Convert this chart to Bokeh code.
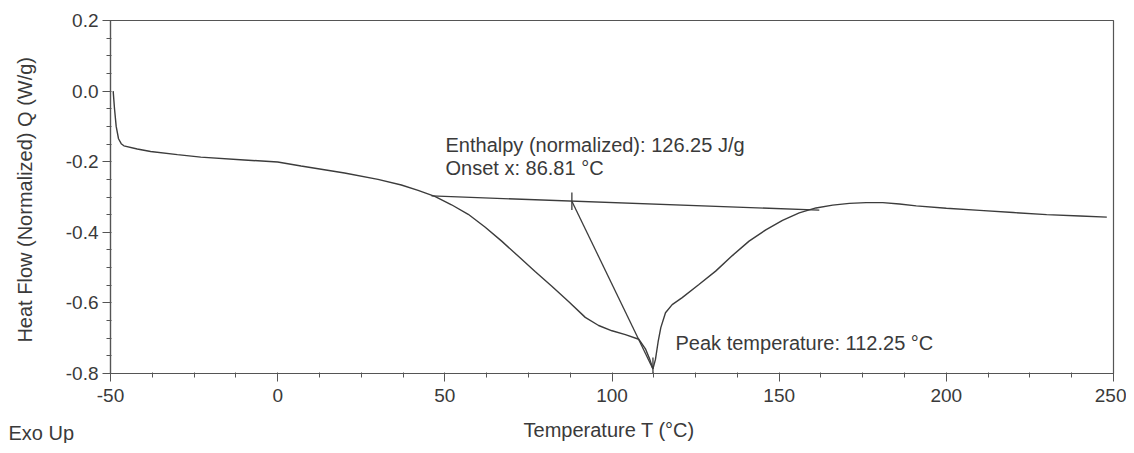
from bokeh.plotting import figure
from bokeh.models import Label, FixedTicker, Title
from bokeh.embed import file_html
from bokeh.resources import INLINE

# ---- data ----
temp_c = [-49.2, -48.8, -48.3, -47.6, -46.8, -46.0, -42.0, -38.0, -30.0, -23.0, -10.0, 0.0, 7.0,
          20.0, 30.0, 37.0, 42.0, 47.0, 52.0, 57.0, 62.0, 67.0, 72.0, 77.0, 82.0, 87.0,
          92.0, 96.0, 100.0, 104.0, 108.0, 110.0, 111.3, 112.25, 113.0, 113.8, 114.6,
          116.0, 118.0, 121.0, 126.0, 131.0, 136.0, 141.0, 146.0, 151.0, 156.0, 161.0,
          166.0, 171.0, 176.0, 181.0, 186.0, 191.0, 200.0, 210.0, 220.0, 230.0, 240.0, 248.0]
heat_flow = [0.0, -0.05, -0.1, -0.135, -0.149, -0.155, -0.164, -0.171, -0.18, -0.187, -0.195, -0.201, -0.212,
             -0.232, -0.25, -0.266, -0.281, -0.298, -0.322, -0.349, -0.385, -0.425, -0.468, -0.511, -0.553, -0.596,
             -0.641, -0.664, -0.679, -0.69, -0.703, -0.73, -0.76, -0.787, -0.76, -0.71, -0.67,
             -0.628, -0.605, -0.585, -0.548, -0.51, -0.466, -0.425, -0.393, -0.366, -0.345, -0.331,
             -0.323, -0.318, -0.316, -0.316, -0.32, -0.325, -0.332, -0.338, -0.344, -0.35, -0.354, -0.357]

baseline_t = [46.0, 162.0]
baseline_q = [-0.297, -0.337]

onset_tick_t = [88.0, 88.0]
onset_tick_q = [-0.287, -0.337]
tangent_t = [88.0, 112.25]
tangent_q = [-0.312, -0.787]
peak_tick_t = [112.25, 112.25]
peak_tick_q = [-0.755, -0.8]

x_major = [-50, 0, 50, 100, 150, 200, 250]
y_major = [-0.8, -0.6, -0.4, -0.2, 0.0, 0.2]
y_tick_labels = {-0.8: "-0.8", -0.6: "-0.6", -0.4: "-0.4", -0.2: "-0.2", 0.0: "0.0", 0.2: "0.2"}
x_tick_labels = {-50: "-50"}

enthalpy_text = "Enthalpy (normalized): 126.25 J/g"
onset_text = "Onset x: 86.81 °C"
peak_text = "Peak temperature: 112.25 °C"
x_title = "Temperature T  (°C)"
y_title = "Heat Flow (Normalized) Q  (W/g)"
corner_text = "Exo Up"

FONT = "Liberation Sans"
INK = "#3c3c3c"
TXT = "#3a3a3a"

p = figure(frame_width=1003, frame_height=353, x_range=(-50, 250), y_range=(-0.8, 0.2),
           output_backend="svg", toolbar_location=None,
           min_border_left=110, min_border_right=13, min_border_top=20, min_border_bottom=10)
p.grid.visible = False
p.outline_line_color = "#555555"
p.outline_line_width = 1.2
p.background_fill_color = "white"
p.border_fill_color = "white"

# axes
p.xaxis.ticker = FixedTicker(ticks=x_major, minor_ticks=[-50 + 12.5 * i for i in range(25)])
p.yaxis.ticker = FixedTicker(ticks=y_major, minor_ticks=[-0.8 + 0.05 * i for i in range(21)])
p.yaxis.major_label_overrides = y_tick_labels
p.xaxis.major_label_overrides = x_tick_labels
for ax in (p.xaxis, p.yaxis):
    ax.axis_line_color = "#555555"
    ax.axis_line_width = 1.2
    ax.major_tick_line_color = "#555555"
    ax.minor_tick_line_color = "#555555"
    ax.major_tick_in = 0
    ax.major_tick_out = 8
    ax.minor_tick_in = 1
    ax.minor_tick_out = 4
    ax.major_label_text_font = FONT
    ax.major_label_text_font_size = "19px"
    ax.major_label_text_color = TXT
    ax.axis_label_text_font = FONT
    ax.axis_label_text_font_size = "20px"
    ax.axis_label_text_font_style = "normal"
    ax.axis_label_text_color = TXT
p.xaxis.major_label_standoff = 7
p.yaxis.major_label_standoff = 4
p.xaxis.axis_label = x_title
p.yaxis.axis_label = y_title
p.xaxis.axis_label_standoff = 14
p.yaxis.axis_label_standoff = 27

# "Exo Up" in the row of the x-axis title
p.add_layout(Title(text=corner_text, align="left", offset=-102, standoff=-44,
                   vertical_align="top", text_font=FONT, text_font_size="20px",
                   text_font_style="normal", text_color=TXT), "below")

# curves
p.line(temp_c, heat_flow, line_color=INK, line_width=1.4)
p.line(baseline_t, baseline_q, line_color=INK, line_width=1.3)
p.line(onset_tick_t, onset_tick_q, line_color=INK, line_width=1.3)
p.line(tangent_t, tangent_q, line_color=INK, line_width=1.3)
p.line(peak_tick_t, peak_tick_q, line_color=INK, line_width=1.3)

def lab(x, y, t):
    p.add_layout(Label(x=x, y=y, text=t, text_font=FONT, text_font_size="20px",
                       text_color=TXT, text_align="left", text_baseline="alphabetic"))

lab(50.2, -0.152, enthalpy_text)
lab(50.2, -0.217, onset_text)
lab(119.0, -0.713, peak_text)

open("out.html", "w").write(file_html(p, INLINE))
